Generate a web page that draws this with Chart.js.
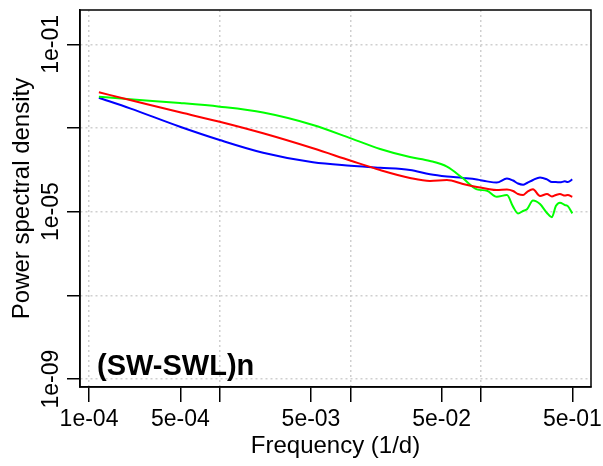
<!DOCTYPE html>
<html>
<head>
<meta charset="utf-8">
<script src="https://cdn.jsdelivr.net/npm/chart.js@4"></script>
<style>
  html, body { margin: 0; padding: 0; background: #fff; }
  canvas { display: block; }
</style>
</head>
<body>
<canvas id="psd" width="603" height="466"></canvas>
<script>
// frequency (1/d), shared by all three spectra
const freq = [1.19e-4, 2.06e-4, 4.97e-4, 1.0e-3, 2.15e-3, 5.18e-3, 1.01e-2, 1.69e-2,
  2.86e-2, 4.07e-2, 5.49e-2, 7.28e-2, 9.31e-2, 0.111, 0.132, 0.158, 0.176, 0.192,
  0.210, 0.225, 0.250, 0.283, 0.320, 0.349, 0.374, 0.402, 0.439, 0.462, 0.5];

const psdRed = [7.13e-3, 4.67e-3, 2.37e-3, 1.41e-3, 7.46e-4, 3.27e-4, 1.65e-4, 9.9e-5,
  6.4e-5, 5.41e-5, 5.71e-5, 4.58e-5, 3.88e-5, 3.54e-5, 3.30e-5, 3.39e-5, 3.12e-5, 2.64e-5,
  2.50e-5, 2.95e-5, 3.42e-5, 2.37e-5, 2.64e-5, 2.30e-5, 2.50e-5, 2.64e-5, 2.43e-5, 2.50e-5, 2.28e-5];

const psdGreen = [5.60e-3, 4.85e-3, 3.95e-3, 3.23e-3, 2.34e-3, 1.18e-3, 5.66e-4, 3.15e-4,
  2.02e-4, 1.63e-4, 1.19e-4, 6.27e-5, 3.42e-5, 3.17e-5, 2.28e-5, 2.50e-5, 1.32e-5, 9.1e-6,
  1.04e-5, 1.14e-5, 1.85e-5, 1.52e-5, 9.3e-6, 7.4e-6, 1.36e-5, 1.64e-5, 1.44e-5, 1.36e-5, 9.1e-6];

const psdBlue = [5.30e-3, 2.95e-3, 1.07e-3, 5.16e-4, 2.56e-4, 1.51e-4, 1.25e-4, 1.12e-4,
  9.9e-5, 7.8e-5, 6.9e-5, 6.4e-5, 5.9e-5, 5.3e-5, 4.98e-5, 6.2e-5, 5.56e-5, 4.71e-5,
  4.41e-5, 4.84e-5, 5.71e-5, 6.55e-5, 5.9e-5, 5.12e-5, 5.12e-5, 5.03e-5, 5.3e-5, 5.12e-5, 5.9e-5];

const xTicks = [1e-4, 5e-4, 1e-3, 5e-3, 1e-2, 5e-2, 1e-1, 5e-1];
const xTickLabels = ["1e-04", "5e-04", "", "5e-03", "", "5e-02", "", "5e-01"];
const yTicks = [1e-9, 1e-7, 1e-5, 1e-3, 1e-1];
const yTickLabels = ["1e-09", "", "1e-05", "", "1e-01"];

const FONT = "'Liberation Sans', Arial, sans-serif";
const GRID = "#cfcfcf";

function series(values) {
  return freq.map((f, i) => ({ x: f, y: values[i] }));
}

function isDecade(v) {
  const l = Math.log10(v);
  return Math.abs(l - Math.round(l)) < 1e-6;
}

const frame = {
  id: "frame",
  afterDraw(chart) {
    const { ctx, chartArea: a } = chart;
    const y = chart.scales.y;
    ctx.save();
    ctx.strokeStyle = "#000";
    ctx.lineWidth = 1.5;
    ctx.strokeRect(a.left, a.top, a.right - a.left, a.bottom - a.top);

    // rotated y tick labels, as R draws them
    ctx.fillStyle = "#000";
    ctx.font = "23px " + FONT;
    ctx.textAlign = "center";
    ctx.textBaseline = "alphabetic";
    yTicks.forEach((v, i) => {
      if (!yTickLabels[i]) return;
      ctx.save();
      ctx.translate(57.5, y.getPixelForValue(v));
      ctx.rotate(-Math.PI / 2);
      ctx.fillText(yTickLabels[i], 0, 0);
      ctx.restore();
    });

    ctx.font = "bold 29px " + FONT;
    ctx.textAlign = "left";
    ctx.fillText("(SW-SWL)n", 97, 375);
    ctx.restore();
  },
};

new Chart(document.getElementById("psd"), {
  type: "line",
  data: {
    datasets: [
      { data: series(psdRed), borderColor: "#ff0000" },
      { data: series(psdGreen), borderColor: "#00ff00" },
      { data: series(psdBlue), borderColor: "#0000ff" },
    ],
  },
  options: {
    responsive: false,
    devicePixelRatio: 1,
    animation: false,
    layout: { padding: { top: 10, right: 12, left: 0, bottom: 0 } },
    elements: {
      point: { radius: 0 },
      line: { borderWidth: 2, cubicInterpolationMode: "monotone" },
    },
    plugins: { legend: { display: false }, tooltip: { enabled: false } },
    scales: {
      x: {
        type: "logarithmic",
        min: Math.pow(10, -4.069),
        max: Math.pow(10, -0.158),
        afterBuildTicks: (s) => { s.ticks = xTicks.map((v) => ({ value: v })); },
        afterFit: (s) => { s.height = 79; s.paddingLeft = 0; s.paddingRight = 0; },
        ticks: {
          autoSkip: false,
          maxRotation: 0,
          padding: 4,
          color: "#000",
          font: { family: FONT, size: 23 },
          callback: (v) => xTickLabels[xTicks.findIndex((t) => Math.abs(t - v) / t < 1e-6)] || "",
        },
        grid: {
          color: (c) => (c.tick && isDecade(c.tick.value) ? GRID : "rgba(0,0,0,0)"),
          lineWidth: 1.5,
          tickColor: "#000",
          tickLength: 15,
          tickWidth: 1.5,
        },
        border: { color: "#000", width: 1.5, dash: [2, 3] },
        title: {
          display: true,
          text: "Frequency (1/d)",
          color: "#000",
          font: { family: FONT, size: 24 },
          padding: { top: 0, bottom: 5 },
        },
      },
      y: {
        type: "logarithmic",
        min: Math.pow(10, -9.19),
        max: Math.pow(10, -0.18),
        afterBuildTicks: (s) => { s.ticks = yTicks.map((v) => ({ value: v })); },
        afterFit: (s) => { s.width = 80; s.paddingTop = 0; s.paddingBottom = 0; },
        ticks: { display: false },
        grid: {
          color: GRID,
          lineWidth: 1.5,
          tickColor: "#000",
          tickLength: 13,
          tickWidth: 1.5,
        },
        border: { color: "#000", width: 1.5, dash: [2, 3] },
        title: {
          display: true,
          text: "Power spectral density",
          color: "#000",
          font: { family: FONT, size: 24 },
          padding: { top: 8, bottom: 0 },
        },
      },
    },
  },
  plugins: [frame],
});
</script>
</body>
</html>
